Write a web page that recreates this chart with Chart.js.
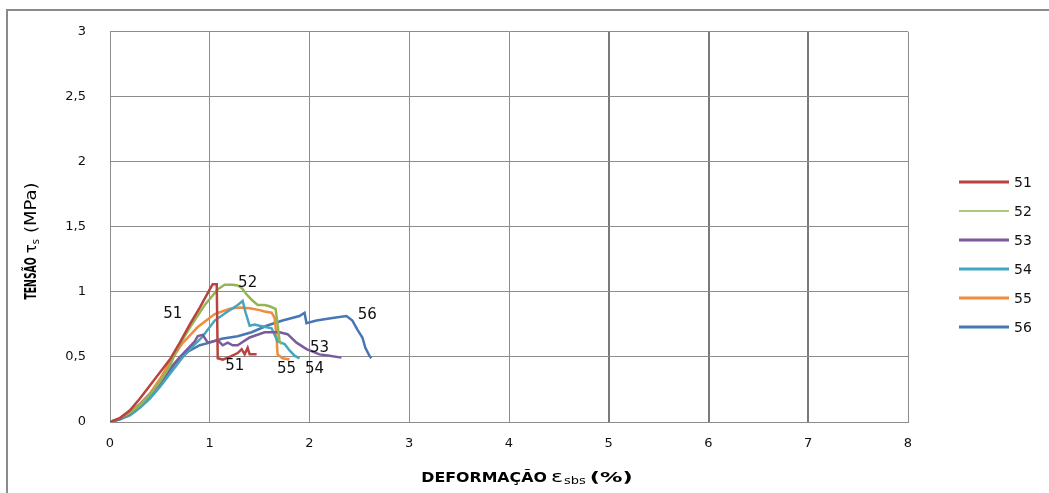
<!DOCTYPE html>
<html>
<head>
<meta charset="utf-8">
<script src="https://cdn.jsdelivr.net/npm/chart.js@4/dist/chart.umd.min.js"></script>
<style>
  body { margin: 0; background: #fff; }
</style>
</head>
<body>
<canvas id="myChart" width="1049" height="493"></canvas>
<script>
// series names
var seriesNames = ['51', '52', '53', '54', '55', '56'];

// deformation (%) / stress (MPa)
var s51x = [0, 0.1, 0.2, 0.3, 0.4, 0.5, 0.6, 0.7, 0.8, 0.9, 1.0, 1.03, 1.07, 1.08, 1.13, 1.2, 1.28, 1.32, 1.35, 1.38, 1.40, 1.47];
var s51y = [0, 0.03, 0.09, 0.18, 0.28, 0.38, 0.48, 0.61, 0.75, 0.88, 1.02, 1.06, 1.06, 0.49, 0.48, 0.50, 0.53, 0.56, 0.52, 0.57, 0.52, 0.52];

var s52x = [0, 0.1, 0.2, 0.3, 0.4, 0.5, 0.6, 0.67, 0.82, 0.95, 1.08, 1.15, 1.23, 1.28, 1.32, 1.37, 1.42, 1.48, 1.55, 1.6, 1.66, 1.68, 1.70, 1.72];
var s52y = [0, 0.03, 0.07, 0.13, 0.21, 0.31, 0.43, 0.56, 0.75, 0.90, 1.02, 1.056, 1.056, 1.05, 1.03, 0.98, 0.94, 0.90, 0.90, 0.89, 0.87, 0.75, 0.62, 0.60];

var s53x = [0, 0.1, 0.2, 0.3, 0.4, 0.5, 0.6, 0.7, 0.8, 0.85, 0.88, 0.93, 0.98, 1.08, 1.13, 1.18, 1.23, 1.28, 1.4, 1.55, 1.7, 1.78, 1.87, 1.97, 2.1, 2.2, 2.32];
var s53y = [0, 0.025, 0.065, 0.13, 0.21, 0.30, 0.41, 0.50, 0.58, 0.62, 0.66, 0.67, 0.61, 0.63, 0.59, 0.61, 0.59, 0.59, 0.65, 0.69, 0.69, 0.675, 0.61, 0.56, 0.52, 0.51, 0.495];

var s54x = [0, 0.1, 0.2, 0.3, 0.4, 0.5, 0.6, 0.75, 0.92, 1.05, 1.18, 1.28, 1.33, 1.36, 1.40, 1.45, 1.5, 1.62, 1.68, 1.75, 1.8, 1.85, 1.9];
var s54y = [0, 0.02, 0.05, 0.11, 0.18, 0.27, 0.37, 0.52, 0.65, 0.78, 0.85, 0.90, 0.93, 0.84, 0.74, 0.75, 0.74, 0.72, 0.62, 0.60, 0.55, 0.51, 0.49];

var s55x = [0, 0.1, 0.2, 0.3, 0.4, 0.5, 0.6, 0.72, 0.88, 1.05, 1.2, 1.3, 1.4, 1.5, 1.55, 1.62, 1.65, 1.67, 1.68, 1.73, 1.8];
var s55y = [0, 0.03, 0.08, 0.14, 0.22, 0.33, 0.46, 0.60, 0.73, 0.83, 0.87, 0.88, 0.875, 0.86, 0.85, 0.84, 0.80, 0.65, 0.52, 0.49, 0.48];

var s56x = [0, 0.1, 0.2, 0.3, 0.4, 0.5, 0.6, 0.7, 0.78, 0.9, 1.0, 1.12, 1.28, 1.42, 1.57, 1.73, 1.9, 1.95, 1.97, 2.07, 2.23, 2.37, 2.43, 2.48, 2.53, 2.56, 2.6, 2.62];
var s56y = [0, 0.02, 0.06, 0.12, 0.20, 0.29, 0.39, 0.48, 0.54, 0.59, 0.61, 0.64, 0.66, 0.69, 0.74, 0.78, 0.815, 0.84, 0.76, 0.78, 0.80, 0.815, 0.78, 0.71, 0.65, 0.57, 0.51, 0.49];

// tick labels
var xTicks = [0, 1, 2, 3, 4, 5, 6, 7, 8];
var yTicks = ['0', '0,5', '1', '1,5', '2', '2,5', '3'];

// text labels written on the curves
var labelText = ['51', '52', '51', '53', '55', '54', '56'];
var labelX = [0.63, 1.38, 1.25, 2.10, 1.77, 2.05, 2.58];
var labelY = [0.83, 1.07, 0.43, 0.57, 0.41, 0.41, 0.82];

var colors = ['#B8433F', '#94B552', '#7A5C9C', '#43A5BF', '#F08C3C', '#4777B5'];
var widths = [2.5, 2.5, 2.5, 2.5, 2.5, 2.5];
var legendWidths = [3, 1.5, 3, 3, 3, 3];

function pts(xs, ys) {
  return xs.map(function (x, i) { return { x: x, y: ys[i] }; });
}
var allX = [s51x, s52x, s53x, s54x, s55x, s56x];
var allY = [s51y, s52y, s53y, s54y, s55y, s56y];

var datasets = seriesNames.map(function (name, i) {
  return {
    label: name,
    data: pts(allX[i], allY[i]),
    borderColor: colors[i],
    backgroundColor: colors[i],
    borderWidth: widths[i],
    pointRadius: 0,
    showLine: true,
    tension: 0
  };
});

// draws a string piece by piece with its own font and stretch
function piece(ctx, text, font, sx, x, y) {
  ctx.font = font;
  var w = ctx.measureText(text).width * sx;
  ctx.save();
  ctx.translate(x, y);
  ctx.scale(sx, 1);
  ctx.fillText(text, 0, 0);
  ctx.restore();
  return w;
}
function measure(ctx, parts) {
  var t = 0;
  parts.forEach(function (p) {
    ctx.font = p.font;
    t += ctx.measureText(p.text).width * p.sx + (p.gap || 0);
  });
  return t;
}

var extras = {
  id: 'extras',
  beforeDraw: function (chart) {
    var ctx = chart.ctx;
    ctx.save();
    ctx.strokeStyle = '#8a8a8a';
    ctx.lineWidth = 2;
    ctx.beginPath();
    ctx.moveTo(7, 500);
    ctx.lineTo(7, 10);
    ctx.lineTo(1060, 10);
    ctx.stroke();
    ctx.restore();
  },
  afterDatasetsDraw: function (chart) {
    var ctx = chart.ctx;
    var xs = chart.scales.x, ys = chart.scales.y;
    ctx.save();
    ctx.fillStyle = '#111';
    ctx.font = '15px "DejaVu Sans"';
    ctx.textAlign = 'center';
    ctx.textBaseline = 'middle';
    labelText.forEach(function (t, i) {
      ctx.fillText(t, xs.getPixelForValue(labelX[i]), ys.getPixelForValue(labelY[i]));
    });

    // legend
    ctx.textAlign = 'left';
    ctx.font = '14px "DejaVu Sans"';
    seriesNames.forEach(function (name, i) {
      var yy = Math.round(182 + i * 28.9);
      ctx.strokeStyle = colors[i];
      ctx.lineWidth = legendWidths[i];
      ctx.beginPath();
      ctx.moveTo(959, yy);
      ctx.lineTo(1009, yy);
      ctx.stroke();
      ctx.fillStyle = '#111';
      ctx.fillText(name, 1014, yy + 1);
    });

    // x axis title
    ctx.textBaseline = 'alphabetic';
    ctx.fillStyle = '#000';
    var xp = [
      { text: 'DEFORMAÇÃO', font: 'bold 14px "DejaVu Sans"', sx: 1.13, gap: 4 },
      { text: 'ε', font: '16px "DejaVu Sans"', sx: 1.4, gap: 1 },
      { text: 'sbs', font: '10px "DejaVu Sans"', sx: 1.3, gap: 4, sub: 2 },
      { text: '(%)', font: 'bold 14px "DejaVu Sans"', sx: 1.6, gap: 0 }
    ];
    var x0 = 527 - measure(ctx, xp) / 2;
    xp.forEach(function (p) {
      x0 += piece(ctx, p.text, p.font, p.sx, x0, 482 + (p.sub || 0)) + p.gap;
    });

    // y axis title
    var yp = [
      { text: 'TENSÃO', font: 'bold 15px "DejaVu Sans"', sx: 0.62, gap: 4 },
      { text: 'τ', font: '15px "DejaVu Sans"', sx: 1.0, gap: 0 },
      { text: 's', font: '10px "DejaVu Sans"', sx: 1.0, gap: 6, sub: 3 },
      { text: '(MPa)', font: '15px "DejaVu Sans"', sx: 1.2, gap: 0 }
    ];
    ctx.translate(36, 241);
    ctx.rotate(-Math.PI / 2);
    var t0 = -measure(ctx, yp) / 2;
    yp.forEach(function (p) {
      t0 += piece(ctx, p.text, p.font, p.sx, t0, p.sub || 0) + p.gap;
    });
    ctx.restore();
  }
};

var ctx = document.getElementById('myChart').getContext('2d');
var myChart = new Chart(ctx, {
  type: 'scatter',
  data: { datasets: datasets },
  options: {
    responsive: false,
    animation: false,
    devicePixelRatio: 1,
    layout: { padding: { left: 0, top: 28, right: 141, bottom: 0 } },
    plugins: {
      legend: { display: false },
      tooltip: { enabled: false }
    },
    scales: {
      x: {
        type: 'linear',
        min: 0,
        max: 8,
        afterFit: function (s) { s.height = 71; },
        afterBuildTicks: function (s) { s.ticks = xTicks.map(function (v) { return { value: v }; }); },
        ticks: {
          padding: 14,
          color: '#111',
          font: { family: 'DejaVu Sans', size: 13 }
        },
        grid: {
          drawTicks: false,
          color: function (c) { return (c.tick && c.tick.value >= 5 && c.tick.value <= 7) ? '#7a7a7a' : '#8c8c8c'; },
          lineWidth: function (c) { return (c.tick && c.tick.value >= 5 && c.tick.value <= 7) ? 2 : 1; }
        },
        border: { color: '#8c8c8c' }
      },
      y: {
        min: 0,
        max: 3,
        afterFit: function (s) { s.width = 110; },
        ticks: {
          stepSize: 0.5,
          padding: 24,
          color: '#111',
          font: { family: 'DejaVu Sans', size: 13 },
          callback: function (v, i) { return yTicks[i]; }
        },
        grid: { drawTicks: false, color: '#8c8c8c' },
        border: { color: '#8c8c8c' }
      }
    }
  },
  plugins: [extras]
});
</script>
</body>
</html>
